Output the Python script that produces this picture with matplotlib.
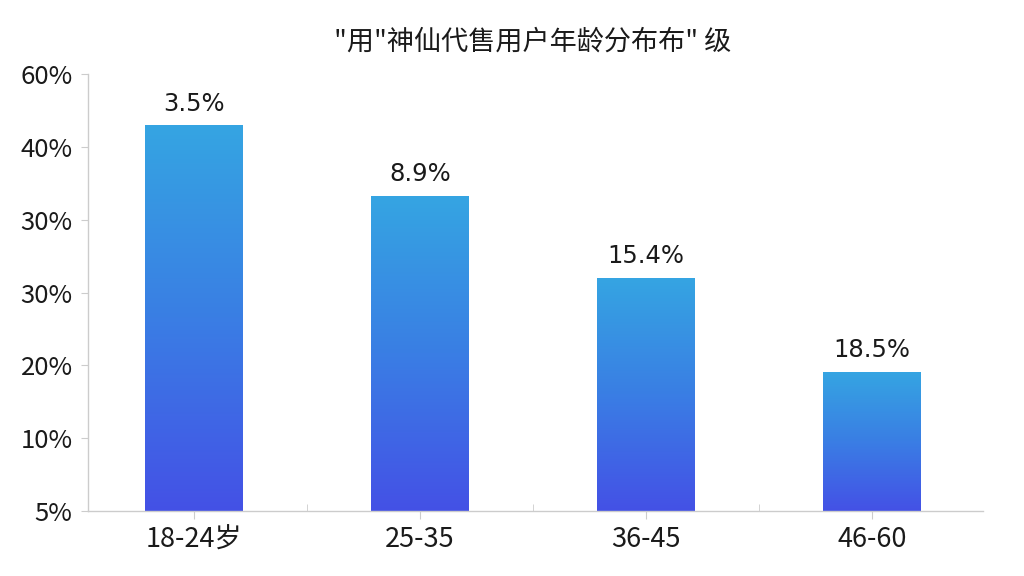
import numpy as np
import matplotlib
matplotlib.use("Agg")
import matplotlib.pyplot as plt
from matplotlib.colors import LinearSegmentedColormap
from matplotlib.patches import Rectangle

plt.rcParams['font.family'] = ['Noto Sans CJK SC', 'DejaVu Sans']

title = '"用"神仙代售用户年龄分布布" 级'
categories = ['18-24岁', '25-35', '36-45', '46-60']
# bar heights on the chart's own (uneven) axis scale, 0 at bottom, 60 at top
heights = [53.0, 43.3, 32.0, 19.1]
value_labels = ['3.5%', '8.9%', '15.4%', '18.5%']
ytick_pos = [0, 10, 20, 30, 40, 50, 60]
ytick_labels = ['5%', '10%', '20%', '30%', '30%', '40%', '60%']

fig = plt.figure(figsize=(10.24, 5.76), dpi=100)
fig.patch.set_facecolor('white')
ax = fig.add_axes([0.0859, 0.1128, 0.874, 0.7587])

cmap = LinearSegmentedColormap.from_list('bar', ['#4451e6', '#3a7ee4', '#35a5e2'])
grad = np.linspace(0, 1, 256).reshape(-1, 1)

width = 0.43
x = np.arange(len(categories))
bars = ax.bar(x, heights, width=width, color='none', edgecolor='none')
for b, lab in zip(bars, value_labels):
    x0, y0 = b.get_x(), b.get_y()
    w, h = b.get_width(), b.get_height()
    im = ax.imshow(grad, cmap=cmap, origin='lower', aspect='auto',
                   extent=[x0, x0 + w, y0, y0 + h], zorder=2)
    im.set_clip_path(Rectangle((x0, y0), w, h, transform=ax.transData))
    ax.text(x0 + w / 2, y0 + h + 1.3, lab, ha='center', va='bottom',
            fontsize=17.5, color='#1a1a1a', family='DejaVu Sans')

ax.set_xlim(-0.467, 3.49)
ax.set_ylim(0, 60)
ax.set_yticks(ytick_pos)
ax.set_yticklabels(ytick_labels, fontsize=18.5, color='#1a1a1a')
ax.set_xticks(x)
ax.set_xticklabels(categories, fontsize=19.5, color='#1a1a1a')
ax.set_xticks(x[:-1] + 0.5, minor=True)
ax.tick_params(axis='x', which='major', length=6, color='#cccccc', direction='out', pad=5)
ax.tick_params(axis='x', which='minor', length=5, color='#cccccc', direction='in')
ax.tick_params(axis='y', length=5, color='#cccccc', direction='out', pad=6)

for s in ['top', 'right']:
    ax.spines[s].set_visible(False)
for s in ['left', 'bottom']:
    ax.spines[s].set_color('#cccccc')
    ax.spines[s].set_linewidth(1)

fig.text(0.52, 0.927, title, ha='center', va='center', fontsize=19.5, color='#1a1a1a')

fig.savefig('out.png', dpi=100, facecolor='white')
